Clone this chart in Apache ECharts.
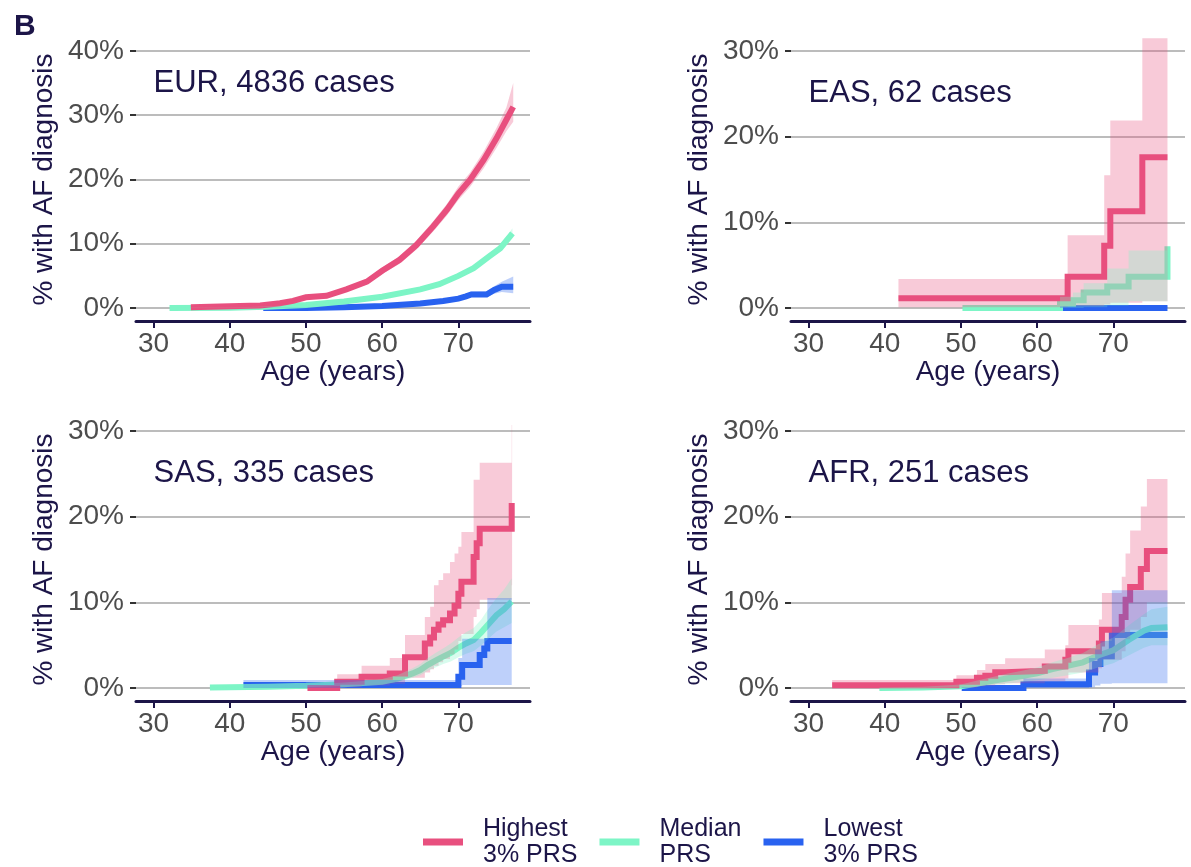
<!DOCTYPE html>
<html><head><meta charset="utf-8">
<script src="https://cdn.jsdelivr.net/npm/echarts@6/dist/echarts.min.js"></script>
<style>html,body{margin:0;padding:0;background:#fff}#c{width:1191px;height:867px}</style>
</head><body><div id="c"></div><script>
// ---------------- data ----------------
const xTicks = [30, 40, 50, 60, 70];
const yTicksEUR = [0, 10, 20, 30, 40];
const yTicksOther = [0, 10, 20, 30];
const groupNames = ['Highest\n3% PRS', 'Median\nPRS', 'Lowest\n3% PRS'];
const panelTitles = ['EUR, 4836 cases', 'EAS, 62 cases', 'SAS, 335 cases', 'AFR, 251 cases'];

// EUR
const eurHighAge = [34.9, 40, 44, 46.6, 48.3, 50, 52.7, 55.3, 58, 60, 62.3, 64.5, 66.7, 68.5, 70, 71.5, 73.3, 75, 76.3, 77.2];
const eurHighEst = [0.1, 0.26, 0.4, 0.73, 1.1, 1.66, 1.9, 2.9, 4.1, 5.8, 7.5, 9.8, 12.7, 15.3, 17.8, 19.9, 23.0, 26.4, 29.3, 31.3];
const eurHighLo  = [0.0, 0.15, 0.28, 0.55, 0.9, 1.4, 1.6, 2.55, 3.7, 5.3, 6.9, 9.1, 11.9, 14.4, 16.8, 18.8, 21.7, 24.9, 27.5, 29.0];
const eurHighHi  = [0.2, 0.37, 0.52, 0.9, 1.3, 1.92, 2.2, 3.25, 4.5, 6.3, 8.1, 10.5, 13.5, 16.2, 18.9, 21.0, 24.3, 28.0, 31.2, 35.0];
const eurMedAge = [32.1, 40, 44.8, 50, 55, 60, 65, 67.5, 70, 72, 74, 75.5, 77.1];
const eurMedEst = [0, 0.05, 0.2, 0.47, 1.0, 1.76, 2.9, 3.7, 5.0, 6.2, 8.0, 9.3, 11.6];
const eurMedLo  = [0, 0.02, 0.15, 0.4, 0.9, 1.62, 2.72, 3.5, 4.75, 5.9, 7.6, 8.8, 10.9];
const eurMedHi  = [0.03, 0.08, 0.25, 0.54, 1.1, 1.9, 3.08, 3.9, 5.25, 6.5, 8.4, 9.8, 12.4];
const eurLowAge = [44.4, 50, 55, 60, 65, 68, 70, 71, 71.7, 73.7, 74.7, 75.7, 77.2];
const eurLowEst = [0, 0, 0.1, 0.3, 0.7, 1.1, 1.45, 1.8, 2.1, 2.1, 2.8, 3.3, 3.3];
const eurLowLo  = [0, 0, 0.05, 0.2, 0.5, 0.85, 1.15, 1.45, 1.7, 1.7, 2.2, 2.5, 2.3];
const eurLowHi  = [0.02, 0.05, 0.17, 0.4, 0.9, 1.35, 1.8, 2.15, 2.55, 2.6, 3.4, 4.1, 4.9];

// EAS
const easHighAge = [41.8, 64.0, 68.8, 69.6, 73.8, 77.1];
const easHighEst = [1.13, 3.66, 7.28, 11.3, 17.6, 17.6];
const easHighLo  = [0.1, 0.2, 0.4, 0.6, 0.8, 0.8];
const easHighHi  = [3.4, 8.5, 15.5, 21.9, 31.5, 31.5];
const easMedAge = [50.2, 63.0, 64.7, 66.1, 69.2, 72.0, 77.1];
const easMedEst = [0, 0.5, 0.9, 1.8, 2.5, 3.66, 7.2];
const easMedLo  = [0, 0, 0, 0.1, 0.3, 0.8, 0.8];
const easMedHi  = [0.05, 1.3, 1.8, 2.9, 4.6, 6.7, 6.7];
const easLowAge = [63.0, 77.1];
const easLowEst = [0, 0];
const easLowLo  = [0, 0];
const easLowHi  = [0.2, 0.2];

// SAS
const sasHighAge = [50.2, 54.1, 57.3, 61.0, 63.0, 65.6, 66.3, 66.8, 67.4, 68.0, 68.9, 69.5, 70.0, 70.4, 72.0, 72.4, 72.8, 77.0, 77.05];
const sasHighEst = [0, 0.74, 1.3, 1.7, 3.6, 5.2, 5.9, 6.8, 7.4, 7.9, 8.7, 9.6, 11.0, 12.4, 15.3, 16.9, 18.6, 21.6, 21.6];
const sasHighLo  = [0, 0.1, 0.3, 0.5, 1.2, 1.8, 2.2, 2.6, 3.0, 3.4, 3.9, 4.5, 5.5, 6.3, 8.3, 9.2, 10.3, 12.0, 12.0];
const sasHighHi  = [0.3, 1.6, 2.6, 3.5, 6.2, 8.3, 9.5, 12.0, 12.6, 13.4, 14.7, 15.7, 16.5, 18.2, 24.3, 24.3, 26.3, 30.7, 30.7];
const sasMedAge = [37.4, 45, 50, 55, 58, 60, 62, 64, 65, 66, 67, 68, 69, 70, 71, 72, 73, 74, 75, 76, 77.0];
const sasMedEst = [0.05, 0.15, 0.25, 0.45, 0.6, 0.74, 1.1, 1.7, 2.1, 2.7, 3.2, 3.66, 4.1, 4.7, 5.2, 5.6, 6.5, 7.5, 8.5, 9.2, 10.1];
const sasMedLo  = [0, 0.05, 0.1, 0.25, 0.35, 0.45, 0.7, 1.2, 1.5, 2.0, 2.4, 2.8, 3.1, 3.6, 4.0, 4.3, 5.0, 5.8, 6.6, 7.1, 7.6];
const sasMedHi  = [0.1, 0.25, 0.4, 0.65, 0.85, 1.05, 1.5, 2.3, 2.8, 3.5, 4.1, 4.6, 5.2, 5.9, 6.5, 7.0, 8.0, 9.3, 10.5, 11.5, 12.8];
const sasLowAge = [41.8, 70.0, 70.5, 72.8, 73.4, 73.8, 77.0];
const sasLowEst = [0.35, 1.3, 2.7, 3.85, 4.6, 5.5, 5.5];
const sasLowLo  = [0, 0.2, 0.35, 0.35, 0.35, 0.35, 0.35];
const sasLowHi  = [0.93, 3.5, 5.75, 5.75, 5.75, 10.5, 10.5];

// AFR
const afrHighAge = [33.1, 49.4, 52.1, 53.2, 54.5, 55.8, 61.0, 63.7, 64.1, 68.1, 68.5, 71.1, 71.6, 72.2, 73.6, 74.4, 77.1];
const afrHighEst = [0.31, 0.74, 1.2, 1.44, 1.83, 2.0, 2.5, 3.3, 4.3, 5.2, 6.8, 8.3, 10.3, 11.8, 13.9, 16.0, 16.0];
const afrHighLo  = [0, 0.05, 0.2, 0.3, 0.45, 0.55, 0.8, 1.1, 1.8, 2.3, 3.3, 4.3, 5.7, 6.8, 8.3, 10.0, 10.0];
const afrHighHi  = [0.93, 1.5, 2.1, 2.8, 2.8, 3.46, 4.5, 5.0, 7.35, 8.0, 11.1, 13.0, 15.7, 18.4, 21.2, 24.4, 24.4];
const afrMedAge = [39.3, 45, 50, 52, 54, 56, 58, 60, 62, 64, 66, 68, 70, 72, 74, 75, 77.1];
const afrMedEst = [0, 0.05, 0.2, 0.5, 0.8, 1.1, 1.4, 1.7, 2.2, 2.6, 3.0, 3.8, 4.4, 5.6, 6.7, 7.0, 7.1];
const afrMedLo  = [0, 0, 0.05, 0.2, 0.35, 0.5, 0.7, 0.9, 1.2, 1.5, 1.8, 2.4, 2.9, 3.8, 4.7, 5.0, 5.0];
const afrMedHi  = [0.05, 0.15, 0.4, 0.85, 1.25, 1.65, 2.0, 2.4, 3.0, 3.5, 4.1, 5.1, 5.9, 7.3, 8.6, 9.2, 9.5];
const afrLowAge = [50.1, 58.2, 66.8, 67.6, 68.3, 69.8, 77.1];
const afrLowEst = [0, 0.43, 1.8, 2.8, 3.7, 6.2, 6.2];
const afrLowLo  = [0, 0, 0.1, 0.3, 0.5, 0.55, 0.55];
const afrLowHi  = [0.1, 1.1, 3.5, 4.5, 5.5, 11.4, 11.4];

// ---------------- styling / layout ----------------
const NAVY = '#1c1548';
const GRAY = '#4d4d4d';
const FONT = '"Liberation Sans", Arial, sans-serif';
const COLORS = ['#e8507f', '#7df5c6', '#2962f0'];
const BANDS = ['rgba(232,80,127,0.30)', 'rgba(125,245,198,0.30)', 'rgba(41,98,240,0.30)'];

const panels = [
  { grid: { left: 136, top: 38, width: 394, height: 283 }, ymin: -2.023, ymax: 42.02, yTicks: yTicksEUR, label: [30, 35],
    steps: [false, false, false],
    groups: [[eurHighAge, eurHighEst, eurHighLo, eurHighHi], [eurMedAge, eurMedEst, eurMedLo, eurMedHi], [eurLowAge, eurLowEst, eurLowLo, eurLowHi]] },
  { grid: { left: 791, top: 38, width: 394, height: 283 }, ymin: -1.517, ymax: 31.52, yTicks: yTicksOther, label: [30, 25],
    steps: [true, true, true],
    groups: [[easHighAge, easHighEst, easHighLo, easHighHi], [easMedAge, easMedEst, easMedLo, easMedHi], [easLowAge, easLowEst, easLowLo, easLowHi]] },
  { grid: { left: 136, top: 418, width: 394, height: 283 }, ymin: -1.517, ymax: 31.52, yTicks: yTicksOther, label: [30, 25],
    steps: [true, false, true],
    groups: [[sasHighAge, sasHighEst, sasHighLo, sasHighHi], [sasMedAge, sasMedEst, sasMedLo, sasMedHi], [sasLowAge, sasLowEst, sasLowLo, sasLowHi]] },
  { grid: { left: 791, top: 418, width: 394, height: 283 }, ymin: -1.517, ymax: 31.52, yTicks: yTicksOther, label: [30, 25],
    steps: [true, false, true],
    groups: [[afrHighAge, afrHighEst, afrHighLo, afrHighHi], [afrMedAge, afrMedEst, afrMedLo, afrMedHi], [afrLowAge, afrLowEst, afrLowLo, afrLowHi]] }
];

const grids = [], xAxes = [], yAxes = [], series = [];

function bandSeries(g, ages, lo, hi, fill, step) {
  return {
    type: 'custom', name: 'band' + g + fill, xAxisIndex: g, yAxisIndex: g, z: 3, silent: true,
    data: [[ages[0], lo[0]]],
    renderItem: function (params, api) {
      const up = [], dn = [];
      for (let i = 0; i < ages.length; i++) {
        if (step && i > 0) up.push(api.coord([ages[i], hi[i - 1]]));
        up.push(api.coord([ages[i], hi[i]]));
      }
      for (let i = ages.length - 1; i >= 0; i--) {
        dn.push(api.coord([ages[i], lo[i]]));
        if (step && i > 0) dn.push(api.coord([ages[i], lo[i - 1]]));
      }
      return { type: 'polygon', shape: { points: up.concat(dn) }, style: { fill: fill, stroke: null } };
    }
  };
}

panels.forEach(function (p, g) {
  grids.push(Object.assign({ containLabel: false, outerBoundsMode: 'none' }, p.grid));
  xAxes.push({
    gridIndex: g, type: 'value', min: 27.7, max: 79.4,
    axisLine: { show: true, onZero: false, lineStyle: { color: NAVY, width: 3 } },
    axisTick: { show: true, length: 7, customValues: xTicks, lineStyle: { color: NAVY, width: 2 } },
    axisLabel: { customValues: xTicks, color: GRAY, fontSize: 28, margin: 9, fontFamily: FONT },
    splitLine: { show: false },
    name: 'Age (years)', nameLocation: 'middle', nameGap: 37, nameMoveOverlap: false,
    nameTextStyle: { color: NAVY, fontSize: 28, fontFamily: FONT }
  });
  yAxes.push({
    gridIndex: g, type: 'value', min: p.ymin, max: p.ymax,
    axisLine: { show: false },
    axisTick: { show: true, length: 6, customValues: p.yTicks, lineStyle: { color: '#333333', width: 2 } },
    axisLabel: { customValues: p.yTicks, formatter: '{value}%', color: GRAY, fontSize: 28, margin: 12, fontFamily: FONT },
    splitLine: { show: true, lineStyle: { color: '#bcbcbc', width: 2 } },
    name: '% with AF diagnosis', nameLocation: 'middle', nameRotate: 90, nameGap: 78, nameMoveOverlap: false,
    nameTextStyle: { color: NAVY, fontSize: 28, fontFamily: FONT }
  });
  // lines drawn lowest -> median -> highest so the pink line sits on top
  [2, 1, 0].forEach(function (k) {
    const ages = p.groups[k][0], est = p.groups[k][1];
    series.push({
      type: 'line', name: groupNames[k], xAxisIndex: g, yAxisIndex: g, z: 2,
      data: ages.map(function (a, i) { return [a, est[i]]; }),
      step: p.steps[k] ? 'end' : false, showSymbol: false, symbol: 'none', clip: false, silent: true,
      lineStyle: { width: 6, color: COLORS[k], cap: 'butt', join: 'miter' }, itemStyle: { color: COLORS[k] }
    });
  });
  p.groups.forEach(function (gr, k) {
    series.push(bandSeries(g, gr[0], gr[2], gr[3], BANDS[k], p.steps[k]));
  });
  series.push({
    type: 'scatter', name: 'label' + g, xAxisIndex: g, yAxisIndex: g, z: 5, silent: true,
    data: [p.label], symbolSize: 0.01, itemStyle: { opacity: 1 },
    label: { show: true, formatter: panelTitles[g], position: 'right', distance: 0,
      color: NAVY, fontSize: 31, fontFamily: FONT, opacity: 1 }
  });
});

const chart = echarts.init(document.getElementById('c'), null, { renderer: 'canvas' });
chart.setOption({
  animation: false,
  backgroundColor: '#ffffff',
  textStyle: { fontFamily: FONT },
  title: { text: 'B', left: 9, top: 7, textStyle: { fontSize: 30, fontWeight: 'bold', color: NAVY, fontFamily: FONT } },
  legend: {
    data: groupNames.map(function (n) { return { name: n, icon: 'rect' }; }),
    left: 423, top: 816, padding: 0, itemWidth: 40, itemHeight: 7, itemGap: 22, selectedMode: false,
    textStyle: { fontSize: 25, lineHeight: 26, color: NAVY, fontFamily: FONT, padding: [0, 0, 0, 15] }
  },
  grid: grids, xAxis: xAxes, yAxis: yAxes, series: series
});
</script></body></html>
